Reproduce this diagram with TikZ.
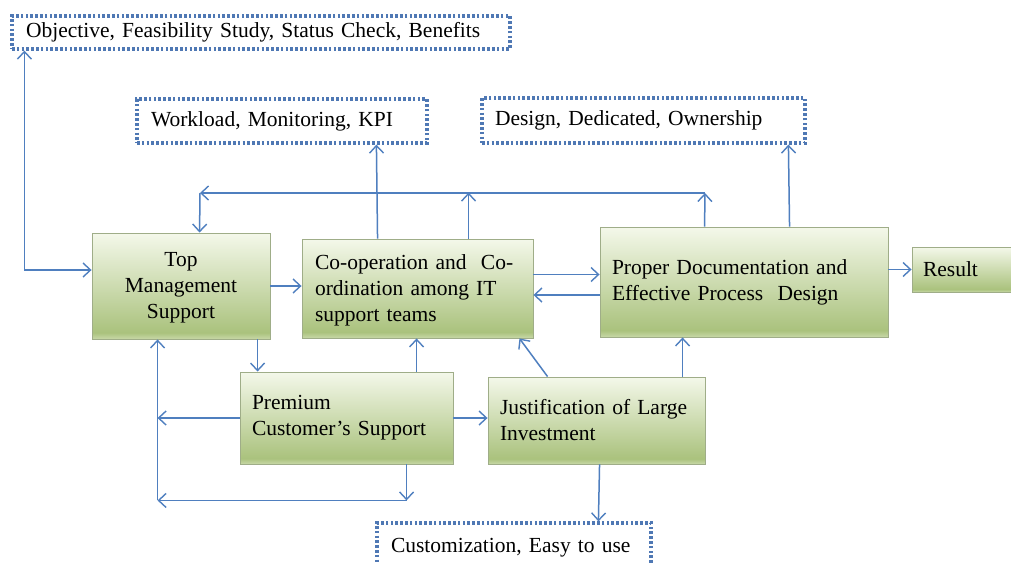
\documentclass[tikz,border=0pt]{standalone}
\usepackage{fontspec}
\setmainfont{Liberation Serif}
\usetikzlibrary{arrows.meta,calc}
\definecolor{ln}{HTML}{4F7FBF}
\definecolor{dotc}{HTML}{4F78B4}
\definecolor{gL}{HTML}{F4F8EA}
\definecolor{gD}{HTML}{AAC27D}
\definecolor{gS}{HTML}{C8D8A8}
\definecolor{gbord}{HTML}{9FAD88}
\pgfdeclareverticalshading{gshade}{100bp}{color(0bp)=(gS); color(25bp)=(gS); color(28bp)=(gD); color(75bp)=(gL); color(100bp)=(gL)}
\tikzset{
  txt/.style={font=\fontsize{21.5}{26}\selectfont, text=black},
  gbox/.style={txt, rectangle, draw=gbord, line width=0.9pt, shade, shading=gshade,
    inner xsep=12pt, inner ysep=2pt, align=left},
  dbox/.style={txt, rectangle, draw=dotc, line width=3.2pt, dash pattern=on 2.6pt off 2.2pt,
    fill=white, inner xsep=14pt, inner ysep=2pt, align=left},
  tip/.style={},
  arr/.style={draw=ln, line width=1.5pt, -{Straight Barb[length=7.5pt,width=14pt,line width=1.4pt]}},
  both/.style={draw=ln, line width=1.5pt, {Straight Barb[length=7.5pt,width=14pt,line width=1.4pt]}-{Straight Barb[length=7.5pt,width=14pt,line width=1.4pt]}}
}
\begin{document}
\begin{tikzpicture}[x=1pt,y=-1pt]
\useasboundingbox (0,0) rectangle (1011,562);
\fill[white] (0,0) rectangle (1011,562);
\clip (0,0) rectangle (1011,562);

% dotted boxes
\node[dbox, minimum width=498pt, minimum height=33pt, text width=470pt] (b1) at (261,32.5) {Objective, Feasibility Study, Status Check, Benefits};
\node[dbox, minimum width=290pt, minimum height=44pt, text width=262pt] (b2) at (282,121) {Workload, Monitoring, KPI};
\node[dbox, minimum width=323pt, minimum height=45pt, text width=297pt, inner xsep=13pt] (b3) at (643.5,120.5) {Design, Dedicated, Ownership};
\node[dbox, minimum width=274pt, minimum height=49pt, text width=246pt, inner xsep=14pt] (b4) at (514,547.5) {Customization, Easy to use};

% green boxes
\node[gbox, minimum width=178pt, minimum height=106pt, text width=154pt, align=center] (tm) at (181,286) {\strut Top\\Management\\Support};
\node[gbox, minimum width=231pt, minimum height=99pt, text width=205pt, inner xsep=13pt] (coop) at (417.5,288.5) {\strut Co-operation and\ \ Co-\\ordination among IT\\support teams};
\node[gbox, minimum width=288pt, minimum height=110pt, text width=264pt] (pd) at (744,282) {Proper Documentation and\\Effective Process\ \ Design};
\node[gbox, minimum width=104pt, minimum height=45pt, text width=82pt, inner xsep=11pt] (res) at (964,269.5) {Result};
\node[gbox, minimum width=213pt, minimum height=92pt, text width=189pt] (prem) at (346.5,418) {Premium\\Customer’s Support};
\node[gbox, minimum width=217pt, minimum height=87pt, text width=193pt] (just) at (596.5,420.5) {Justification of Large\\Investment};

% junction coordinates
\coordinate (jl) at (200,193);
\coordinate (jr) at (705,193);

% connectors
\draw[both] ($(b1.south west)+(14,0)$) |- ($(tm.west)+(0,-16)$);
\draw[arr] ($(pd.north west)+(105,0)$) -- (jr);
\draw[arr] (jr) -- (jl);
\draw[arr] (jl) -- ($(tm.north west)+(108,0)$);
\draw[arr] ($(coop.north west)+(76,0)$) -- ($(b2.south west)+(241,0)$);
\draw[arr] ($(coop.north west)+(167,0)$) -- ++(0,-46);
\draw[arr] ($(pd.north west)+(190,0)$) -- ($(b3.south west)+(308,0)$);

\draw[arr] (tm.east) -- (tm.east -| coop.west);
\draw[arr] ($(coop.east)+(0,-14)$) -- ($(pd.west)+(0,-7.5)$);
\draw[arr] ($(pd.west)+(0,13)$) -- ($(coop.east)+(0,6.5)$);
\draw[arr] ($(pd.east)+(0,-12.5)$) -- (res.west);

\draw[arr] ($(tm.south west)+(166,0)$) -- ($(prem.north west)+(18,0)$);
\draw[arr] ($(prem.north west)+(177,0)$) -- ($(coop.south west)+(115,0)$);
\draw[arr] (prem.west) -- ++(-82,0);
\draw[arr] ($(prem.south west)+(167,0)$) -- ++(0,36);
\draw[arr] ($(prem.south west)+(167,36)$) -- ++(-249,0);
\draw[arr] ($(prem.south west)+(-82,36)$) -- ($(tm.south west)+(66,0)$);
\draw[arr] (prem.east) -- (prem.east -| just.west);
\draw[arr] ($(just.north west)+(60,0)$) -- ($(coop.south east)+(-14,0)$);
\draw[arr] ($(just.north west)+(195,0)$) -- ($(pd.south west)+(83,0)$);
\draw[arr] ($(just.south west)+(112,0)$) -- ($(b4.north west)+(223,0)$);
\end{tikzpicture}
\end{document}
